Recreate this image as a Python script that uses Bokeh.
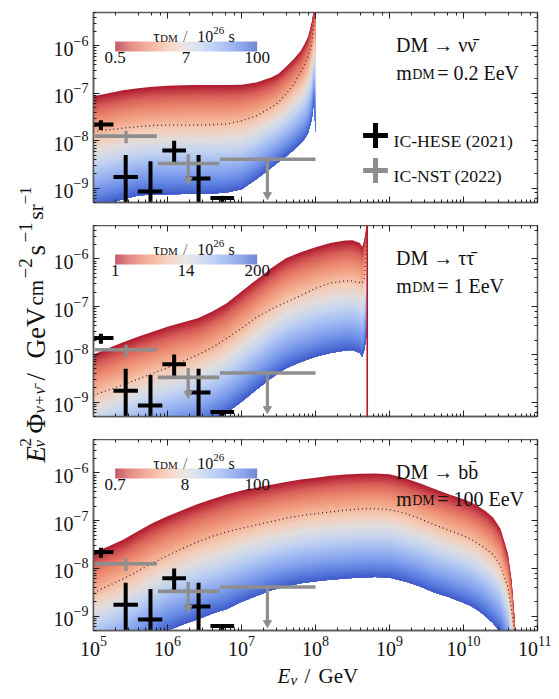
import numpy as np
from bokeh.embed import file_html
from bokeh.resources import INLINE
from bokeh.layouts import column, row
from bokeh.plotting import figure
from bokeh.models import (Range1d, LogAxis, LogTicker, Label, Legend, LegendItem, ColorBar,
                          LogColorMapper, FixedTicker, BasicTickFormatter, Span)

# ---------- values (log10 of E / GeV and log10 of the flux) ----------
P1_LOG_E = [5.0, 5.2, 5.4, 5.6, 5.8, 6.0, 6.2, 6.4, 6.6, 6.8, 7.0, 7.2, 7.4, 7.5, 7.6, 7.7, 7.8, 7.85, 7.9, 7.95, 7.98, 8.0]
P1_UPPER = [-7.063, -7.0, -6.94, -6.895, -6.865, -6.845, -6.835, -6.828, -6.825, -6.825, -6.82, -6.775, -6.67, -6.59, -6.45, -6.29, -6.11, -5.97, -5.81, -5.5, -5.2, -5.0]
P1_MID = [-7.811, -7.77, -7.735, -7.705, -7.68, -7.67, -7.67, -7.67, -7.66, -7.65, -7.58, -7.48, -7.30, -7.19, -7.02, -6.83, -6.55, -6.41, -6.22, -5.96, -5.45, -5.2]
P1_LOWER = [-9.40, -9.32, -9.235, -9.155, -9.13, -9.125, -9.12, -9.12, -9.11, -9.09, -9.02, -8.81, -8.57, -8.45, -8.33, -8.2, -8.05, -7.97, -7.83, -7.55, -7.15, -7.82]

P2_LOG_E = [5.0, 5.2, 5.4, 5.6, 5.8, 6.0, 6.2, 6.4, 6.6, 6.8, 7.0, 7.2, 7.4, 7.6, 7.8, 8.0, 8.2, 8.4, 8.5, 8.6, 8.63, 8.66, 8.69, 8.7]
P2_UPPER = [-8.0, -7.874, -7.748, -7.63, -7.524, -7.42, -7.33, -7.25, -7.105, -6.93, -6.685, -6.44, -6.196, -5.986, -5.86, -5.755, -5.67, -5.615, -5.608, -5.67, -5.75, -5.60, -5.3, -5.1]
P2_MID = [-8.853, -8.748, -8.636, -8.517, -8.40, -8.28, -8.154, -8.014, -7.86, -7.664, -7.455, -7.224, -7.056, -6.91, -6.77, -6.615, -6.51, -6.462, -6.462, -6.50, -6.51, -6.41, -5.64, -5.4]
P2_LOWER = [-10.3, -10.17, -10.05, -9.93, -9.82, -9.72, -9.63, -9.55, -9.41, -9.23, -8.99, -8.74, -8.50, -8.29, -8.16, -8.05, -7.97, -7.92, -7.91, -7.97, -8.05, -7.9, -7.6, -7.5]
P2_CUTOFF = 5e8

P3_LOG_E = [5.0, 5.2, 5.4, 5.6, 5.8, 6.0, 6.2, 6.4, 6.6, 6.8, 7.0, 7.2, 7.4, 7.6, 7.8, 8.0, 8.2, 8.4, 8.6, 8.8, 9.0, 9.2, 9.4, 9.6, 9.8, 10.0, 10.1, 10.2, 10.3, 10.4, 10.5, 10.6, 10.65, 10.69, 10.7]
P3_UPPER = [-7.664, -7.54, -7.40, -7.224, -7.05, -6.91, -6.783, -6.657, -6.552, -6.455, -6.37, -6.31, -6.25, -6.19, -6.14, -6.10, -6.06, -6.035, -6.02, -6.014, -6.03, -6.105, -6.21, -6.33, -6.45, -6.55, -6.615, -6.70, -6.804, -6.937, -7.17, -7.69, -8.25, -9.02, -9.44]
P3_MID = [-8.51, -8.364, -8.217, -8.056, -7.888, -7.734, -7.587, -7.448, -7.33, -7.238, -7.16, -7.09, -7.02, -6.95, -6.895, -6.853, -6.818, -6.783, -6.755, -6.748, -6.77, -6.84, -6.95, -7.084, -7.20, -7.315, -7.39, -7.483, -7.587, -7.706, -7.937, -8.39, -8.88, -9.3, -9.6]
P3_LOWER = [-10.1, -9.97, -9.82, -9.65, -9.47, -9.3, -9.18, -9.07, -8.95, -8.85, -8.70, -8.58, -8.46, -8.38, -8.31, -8.27, -8.24, -8.21, -8.19, -8.18, -8.19, -8.27, -8.37, -8.50, -8.60, -8.72, -8.79, -8.88, -9.0, -9.15, -9.33, -9.7, -10.2, -10.7, -11.0]

HESE_LOG_E_LO = [4.94, 5.27, 5.6, 5.93, 6.25, 6.58]
HESE_LOG_E_HI = [5.27, 5.6, 5.93, 6.25, 6.58, 6.9]
HESE_LOG_E_C = [5.10, 5.435, 5.77, 6.09, 6.42, 6.74]
HESE_FLUX = [2.2e-8, 1.73e-9, 8.5e-10, 6.2e-9, 1.6e-9, 6.2e-10]
HESE_FLUX_HI = [2.7e-8, 5.0e-9, 3.7e-9, 1.0e-8, 5.0e-9, 6.7e-10]
HESE_FLUX_LO = [1.67e-8, 1e-10, 1e-10, 3.5e-9, 1e-10, 1e-10]

NST_LOG_E_LO = [5.02, 5.87, 6.71]
NST_LOG_E_HI = [5.856, 6.70, 8.0]
NST_LOG_E_C = [5.44, 6.28, 7.35]
NST_FLUX = [1.25e-8, 3.3e-9, 4.07e-9]
NST_FLUX_HI = [1.6e-8, 5.2e-9, 4.07e-9]
NST_FLUX_LO = [8.8e-9, 1.5e-9, 7.2e-10]
NST_IS_LIMIT = [False, True, True]

CB_LOW = [0.5, 1, 0.7]
CB_HIGH = [100, 200, 100]
CB_TICKS = [[0.5, 7, 100], [1, 14, 200], [0.7, 8, 100]]

CHANNELS = ["DM \u2192 \u03bd\u03bd\u0304", "DM \u2192 \u03c4\u03c4\u0304", "DM \u2192 bb\u0304"]
MASSES = ["= 0.2 EeV", "= 1 EeV", "= 100 EeV"]
X_RANGE = (1e5, 1e11)
Y_RANGE = (5e-10, 5e-6)

CMAP_ANCHORS = ["#b01c30", "#d9605a", "#ec8a70", "#f4ac90", "#f4cdb8", "#e0dedd",
                "#c6d4f0", "#a6bef2", "#86a3ee", "#6084e2", "#3f58c8"]

SERIF = "Liberation Serif"
BLACK = "#000000"
GRAY = "#8e8e8e"
FRAME = "#5a5a5a"


def hex_rgb(h):
    return np.array([int(h[i:i + 2], 16) for i in (1, 3, 5)], float)


def cmap(t):
    pos = t * (len(CMAP_ANCHORS) - 1)
    i = min(int(pos), len(CMAP_ANCHORS) - 2)
    c = hex_rgb(CMAP_ANCHORS[i]) * (1 - (pos - i)) + hex_rgb(CMAP_ANCHORS[i + 1]) * (pos - i)
    return "#%02x%02x%02x" % tuple(int(round(v)) for v in c)


PALETTE = [cmap(k / 127) for k in range(128)]

# ---------- page geometry ----------
LEFT_W = 93
F_LEFT = 93.0      # page x of frame left
F_W = 444
F_HS = [190, 191, 191]
BORDERS = [(12, 23), (0, 23), (0, 27)]
BOTTOM_H = 33
TOTAL_H = sum(F_HS) + sum(a + b for a, b in BORDERS) + BOTTOM_H


def txt(p, px, py, text, size, style="normal", angle=0, color="#111111"):
    """place a text in screen units relative to the frame's lower-left corner"""
    p.add_layout(Label(x=px, y=py, x_units="screen", y_units="screen", text=text,
                       text_font=SERIF, text_font_size=f"{size}px", text_font_style=style,
                       text_color=color, text_align="left", text_baseline="alphabetic", angle=angle,
                       angle_units="deg"))


def panel(i, log_e, upper, mid, lower):
    top_b, bot_b = BORDERS[i]
    p = figure(x_axis_type="log", y_axis_type="log", x_range=Range1d(*X_RANGE), y_range=Range1d(*Y_RANGE),
               frame_width=F_W, frame_height=F_HS[i], width=F_W + 45 + 14, height=F_HS[i] + top_b + bot_b,
               min_border_left=45, min_border_right=14, min_border_top=top_b, min_border_bottom=bot_b,
               output_backend="svg", toolbar_location=None, background_fill_color="white", border_fill_color=None)
    p.grid.visible = False
    p.outline_line_color = FRAME
    p.outline_line_width = 1.5

    for axis in (p.xaxis[0], p.yaxis[0]):
        axis.axis_line_color = FRAME
        axis.axis_line_width = 1.5
        axis.major_tick_in = 6
        axis.major_tick_out = 0
        axis.minor_tick_in = 3
        axis.minor_tick_out = 0
        axis.major_tick_line_color = "#222222"
        axis.minor_tick_line_color = "#222222"
        axis.major_label_text_font = SERIF
        axis.major_label_text_font_size = "20px"
        axis.major_label_text_color = "#111111"
        axis.major_label_standoff = 5
    if i < 2:
        p.xaxis.major_label_text_font_size = "1px"
        p.xaxis.major_label_text_alpha = 0
        p.xaxis.major_label_standoff = 0
    for side in ("above", "right"):
        ax = LogAxis(ticker=LogTicker(), major_label_text_font_size="1px", major_label_text_alpha=0,
                     axis_line_alpha=0, major_tick_in=6, major_tick_out=0, minor_tick_in=3, minor_tick_out=0,
                     major_tick_line_color="#222222", minor_tick_line_color="#222222", major_label_standoff=0)
        p.add_layout(ax, side)

    # colour gradient of the band, painted from the upper curve downwards
    E = 10.0 ** np.array(log_e)
    up, lo = np.array(upper), np.array(lower)
    n = 90
    for k in range(n):
        t = k / (n - 1)
        p.varea(x=E, y1=10.0 ** (up * (1 - t) + lo * t), y2=10.0 ** lo, fill_color=cmap(t), fill_alpha=1)
    p.line(E, 10.0 ** np.array(mid), line_color="#3a2a2a", line_width=1.3, line_dash=[1, 3])

    if i == 1:
        p.add_layout(Span(location=P2_CUTOFF, dimension="height", line_color="#b2182b", line_width=1.6))

    # IC-HESE
    hx0, hx1, hxc = (10.0 ** np.array(a) for a in (HESE_LOG_E_LO, HESE_LOG_E_HI, HESE_LOG_E_C))
    p.segment(hx0, HESE_FLUX, hx1, HESE_FLUX, line_color=BLACK, line_width=4)
    p.segment(hxc, HESE_FLUX_LO, hxc, HESE_FLUX_HI, line_color=BLACK, line_width=4)
    # IC-NST
    nx0, nx1, nxc = (10.0 ** np.array(a) for a in (NST_LOG_E_LO, NST_LOG_E_HI, NST_LOG_E_C))
    p.segment(nx0, NST_FLUX, nx1, NST_FLUX, line_color=GRAY, line_width=3.6)
    p.segment(nxc, NST_FLUX_LO, nxc, NST_FLUX_HI, line_color=GRAY, line_width=3.2)
    tips_x = [x for x, f in zip(nxc, NST_IS_LIMIT) if f]
    tips_y = [y for y, f in zip(NST_FLUX_LO, NST_IS_LIMIT) if f]
    p.scatter(tips_x, tips_y, marker="inverted_triangle", size=8, fill_color=GRAY, line_color=GRAY)

    # colour bar
    mapper = LogColorMapper(palette=PALETTE, low=CB_LOW[i], high=CB_HIGH[i])
    cb = ColorBar(color_mapper=mapper, ticker=FixedTicker(ticks=CB_TICKS[i]), formatter=BasicTickFormatter(),
                  width=142, height=10, orientation="horizontal", scale_alpha=0.72,
                  location=(21.7, F_HS[i] - 37 - 22 + 6), padding=0, margin=0, background_fill_alpha=0,
                  major_tick_line_color=None, minor_tick_line_color=None, bar_line_color=None,
                  border_line_color=None, major_label_text_font=SERIF, major_label_text_font_size="17px",
                  major_label_text_color="#111111", label_standoff=0)
    p.add_layout(cb, "center")

    # texts, given relative to the frame's lower-left corner
    H = F_HS[i]
    X = lambda px: px - F_LEFT
    Y = lambda dy: H - dy
    cy = 23.7
    txt(p, X(152.7), Y(cy), "\u03c4", 16)
    txt(p, X(159.5), Y(cy + 1.3), "DM", 11)
    txt(p, X(182.5), Y(cy), "/", 16, color="#666666")
    txt(p, X(196.7), Y(cy), "10", 16)
    txt(p, X(212.8), Y(cy - 5.5), "26", 11)
    txt(p, X(228), Y(cy), "s", 16)
    txt(p, X(395.5), Y(32.3), CHANNELS[i], 20)
    my = 60.7 if i < 2 else 59.7
    txt(p, X(395.7), Y(my), "m", 20)
    txt(p, X(411.7), Y(my + 1.5), "DM", 14)
    txt(p, X(436.7), Y(my), MASSES[i], 20)
    return p


p1 = panel(0, P1_LOG_E, P1_UPPER, P1_MID, P1_LOWER)
p2 = panel(1, P2_LOG_E, P2_UPPER, P2_MID, P2_LOWER)
p3 = panel(2, P3_LOG_E, P3_UPPER, P3_MID, P3_LOWER)

# legend keys in the first panel, their texts placed next to them
for lbl, col, xs, ys, loc_y, base_y in (("IC-HESE (2021)", BLACK, HESE_LOG_E_C, HESE_FLUX, 36, 140),
                                        ("IC-NST (2022)", GRAY, NST_LOG_E_C, NST_FLUX, 1, 175)):
    r = p1.scatter(10.0 ** np.array(xs), ys, marker="cross", size=1, line_color=col, line_width=5, line_alpha=1, fill_alpha=0)
    leg = Legend(items=[LegendItem(label=" ", renderers=[r], index=0)], location=(250.7, loc_y),
                 glyph_width=62, glyph_height=62, label_standoff=0, padding=0, margin=0,
                 background_fill_alpha=0, border_line_alpha=0, label_text_font=SERIF,
                 label_text_font_size="1px", spacing=0)
    p1.add_layout(leg, "center")
    txt(p1, 393 - F_LEFT, 202 - base_y, lbl, 17.7)

# x label strip under the bottom panel
bottom = figure(width=F_W + 45 + 14, height=BOTTOM_H, x_range=(0, 1), y_range=(0, 1), min_border=0,
                output_backend="svg", toolbar_location=None, outline_line_color=None,
                background_fill_color=None, border_fill_color=None)
bottom.axis.visible = False
bottom.grid.visible = False
for px, by, text, size, style in ((277, 16, "E", 21, "italic"), (290, 12, "\u03bd", 15, "italic"),
                                  (304, 16, "/", 21, "normal"), (318, 16, "GeV", 21, "normal")):
    txt(bottom, px - F_LEFT, by, text, size, style=style)

# y label in its own column on the left; the panels' tick labels overlap its empty right part
left = figure(width=LEFT_W, height=TOTAL_H, x_range=(0, LEFT_W), y_range=(0, TOTAL_H), min_border=0,
              output_backend="svg", toolbar_location=None, outline_line_color=None,
              background_fill_color=None, border_fill_color=None)
left.axis.visible = False
left.grid.visible = False
LB = 35    # baseline x
for py, dx, text, size, style in (
        (462, 0, "E", 27, "italic"), (446, -10, "2", 17, "normal"), (447, 4, "\u03bd", 17, "italic"),
        (433, 0, "\u03a6", 27, "normal"), (413, 4, "\u03bd+\u03bd\u0304", 17, "italic"),
        (380, 0, "/", 27, "normal"), (358, 0, "GeV", 27, "normal"), (305, 0, "cm", 21, "normal"),
        (278, -10, "\u22122", 19, "normal"), (255, 0, "s", 27, "normal"), (242, -10, "\u22121", 19, "normal"),
        (219, 0, "sr", 21, "normal"), (204, -10, "\u22121", 17, "normal")):
    txt(left, LB + dx, TOTAL_H - py, text, size, style=style, angle=90)

page = row(left, column(p1, p2, p3, bottom, margin=(0, 0, 0, -45)))
open("out.html", "w").write(file_html(page, INLINE))
